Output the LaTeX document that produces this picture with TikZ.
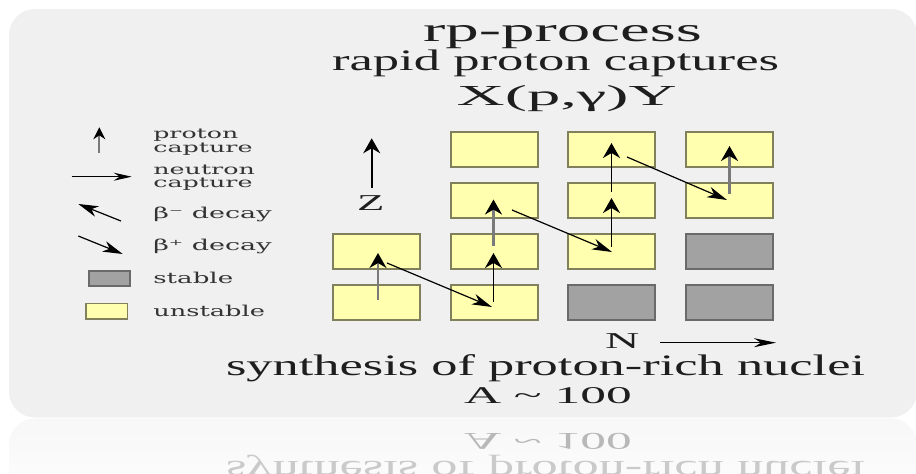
\documentclass[tikz,border=0pt]{standalone}
\usepackage{fontspec}
\setmainfont{Liberation Serif}
\newfontfamily\legfont{DejaVu Serif}
\usetikzlibrary{arrows.meta,calc}
\definecolor{panel}{HTML}{F0F0F0}
\definecolor{cellY}{HTML}{FFFFAF}
\definecolor{cellYb}{HTML}{80805C}
\definecolor{cellG}{HTML}{A2A2A2}
\definecolor{cellGb}{HTML}{6A6A6A}
\definecolor{ink}{HTML}{1E1E1E}
\definecolor{legink}{HTML}{333333}
\definecolor{shaftgray}{HTML}{7A7A7A}
\definecolor{refA}{HTML}{B8B8B8}
\definecolor{refS}{HTML}{CACACA}
\newcommand\wtxt[3]{\resizebox{#1pt}{\height}{\fontsize{#2}{#2}\selectfont #3}}
\begin{document}
\begin{tikzpicture}[x=1pt,y=-1pt,
  cell/.style={line width=1.6pt, minimum width=87.4pt, minimum height=35.4pt, inner sep=0pt, outer sep=0pt},
  ycell/.style={cell, fill=cellY, draw=cellYb},
  gcell/.style={cell, fill=cellG, draw=cellGb},
  txt/.style={inner sep=0pt, outer sep=0pt, anchor=base west, text=ink},
  legtxt/.style={txt, text=legink, font=\legfont},
  vtip/.style={-{Stealth[length=15pt,width=17pt,inset=5pt,color=black]}},
  dtip/.style={-{Stealth[length=20pt,width=11pt,inset=6pt]}, line width=1.2pt},
  htip/.style={-{Stealth[length=22pt,width=9pt,inset=7pt]}, line width=1.2pt},
  blackshaft/.style={vtip, line width=1.8pt, draw=black},
  grayshaft/.style={vtip, line width=2.4pt, draw=shaftgray},
]
\useasboundingbox (0,0) rectangle (916,474);
% panel and its reflection
\fill[white] (0,0) rectangle (916,474);
\fill[panel, rounded corners=26pt] (9,9) rectangle (917,417.5);
\shade[top color=black!3, bottom color=white, rounded corners=26pt] (9,418.5) rectangle (917,530);

% title
\node[txt] (t1) at (423,41.7) {\wtxt{279}{34}{rp-process}};
\node[txt] (t2) at (332,70) {\wtxt{447}{29.7}{rapid proton captures}};
\node[txt] (t3) at (456.7,105) {\wtxt{220}{29}{X(p,γ)Y}};

% cells
\node[ycell] (c11) at (376.5,302.5) {};
\node[ycell] (c12) at (376.5,251.5) {};
\node[ycell] (c21) at (494.5,302.5) {};
\node[ycell] (c22) at (494.5,251.5) {};
\node[ycell] (c23) at (494.5,200.5) {};
\node[ycell] (c24) at (494.5,149.5) {};
\node[gcell] (c31) at (611.5,302.5) {};
\node[ycell] (c32) at (611.5,251.5) {};
\node[ycell] (c33) at (611.5,200.5) {};
\node[ycell] (c34) at (611.5,149.5) {};
\node[gcell] (c41) at (729.5,302.5) {};
\node[gcell] (c42) at (729.5,251.5) {};
\node[ycell] (c43) at (729.5,200.5) {};
\node[ycell] (c44) at (729.5,149.5) {};

% beta+ decays
\draw[dtip] ($(c12.center)+(10.5,11.5)$) -- ($(c21.center)+(-2.5,4.5)$);
\draw[dtip] ($(c23.center)+(17.5,9.5)$) -- ($(c32.center)+(0.5,0.5)$);
\draw[dtip] ($(c34.center)+(15.5,7.5)$) -- ($(c43.center)+(-2.5,-0.5)$);

% proton captures
\draw[grayshaft] ($(c11.center)+(1.5,-2.5)$) -- ($(c12.center)+(1.5,1.5)$);
\draw[blackshaft] ($(c21.center)+(-1,-0.5)$) -- ($(c22.center)+(-1,1.5)$);
\draw[grayshaft] ($(c22.center)+(-1,-5.5)$) -- ($(c23.center)+(-1,-1)$);
\draw[blackshaft] ($(c32.center)+(0,-4.5)$) -- ($(c33.center)+(0,-2.5)$);
\draw[blackshaft] ($(c33.center)+(0,-8.5)$) -- ($(c34.center)+(0,-6.5)$);
\draw[grayshaft, line width=3.4pt] ($(c43.center)+(0,-6.5)$) -- ($(c44.center)+(0,-3.5)$);

% axes
\node[txt] (zlab) at (357,210) {\wtxt{27.3}{22.7}{Z}};
\coordinate (zs) at (371.7,188.3);
\coordinate (ze) at (371.7,138.3);
\draw[vtip, line width=1.6pt] (zs) -- (ze);
\node[txt] (nlab) at (605,348.3) {\wtxt{34.3}{22.7}{N}};
\coordinate (ns) at (660,342.7);
\coordinate (ne) at (776,342.7);
\draw[htip] (ns) -- (ne);

% bottom text
\node[txt] (b1) at (226,375) {\wtxt{639}{29.7}{synthesis of proton-rich nuclei}};
\node[txt] (b2) at (464,403.3) {\wtxt{167.7}{24}{A \textasciitilde{} 100}};

% reflection
\node[txt, text=refA] (r2) at (464,433.3) {\scalebox{1}[-1]{\wtxt{167.7}{24}{A \textasciitilde{} 100}}};
\node[txt, text=refS] (r1) at (226,461.6) {\scalebox{1}[-1]{\wtxt{639}{29.7}{synthesis of proton-rich nuclei}}};

% legend
\coordinate (lp1) at (99.3,152.7);
\coordinate (lp2) at (99.3,127.3);
\draw[grayshaft, line width=2pt, -{Stealth[length=12pt,width=12pt,inset=4pt,color=black]}] (lp1) -- (lp2);
\coordinate (ln1) at (71.7,176.7);
\coordinate (ln2) at (131.7,176.7);
\draw[-{Stealth[length=18pt,width=8pt,inset=6pt]}, line width=1.1pt] (ln1) -- (ln2);
\coordinate (lm1) at (121,221);
\coordinate (lm2) at (78.3,204);
\draw[dtip] (lm1) -- (lm2);
\coordinate (lb1) at (78.3,236);
\coordinate (lb2) at (122.7,254);
\draw[dtip] (lb1) -- (lb2);
\node[gcell, minimum width=40.5pt, minimum height=15pt] (lst) at (109.5,278.3) {};
\node[ycell, minimum width=41.5pt, minimum height=15.5pt] (lun) at (106.7,311.3) {};

\node[legtxt] (lt1) at (153.3,138.5) {\wtxt{85}{14}{proton}};
\node[legtxt] (lt2) at (153.3,152) {\wtxt{99.3}{14}{capture}};
\node[legtxt] (lt3) at (153.3,174.5) {\wtxt{101.7}{14}{neutron}};
\node[legtxt] (lt4) at (153.3,187) {\wtxt{99.3}{14}{capture}};
\node[legtxt] (lt5) at (153.3,218.5) {\wtxt{118.3}{15}{β⁻ decay}};
\node[legtxt] (lt6) at (153.3,250.5) {\wtxt{118.3}{15}{β⁺ decay}};
\node[legtxt] (lt7) at (153.3,283.3) {\wtxt{80}{15}{stable}};
\node[legtxt] (lt8) at (153.3,316.3) {\wtxt{111.7}{15}{unstable}};
\end{tikzpicture}
\end{document}
